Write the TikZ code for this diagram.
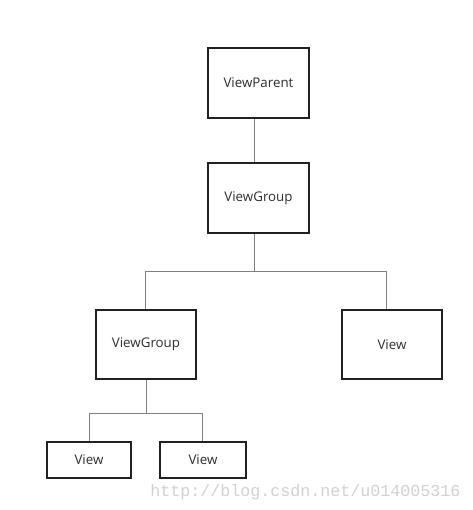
\documentclass[tikz,border=0pt]{standalone}
\usepackage{fontspec}
\setmainfont{Open Sans}
\newfontfamily\wmfont{Liberation Mono}
\begin{document}
\begin{tikzpicture}[x=0.75pt,y=-0.75pt,
  box/.style={draw=black!87,line width=1.5pt,fill=white,text=black!82,font=\fontsize{10}{12}\selectfont,inner sep=0pt},
  conn/.style={draw=black!50,line width=0.75pt}]
\useasboundingbox[fill=white] (0,0) rectangle (473,510);
\node[box,minimum width=101*0.75pt,minimum height=70*0.75pt] (vp) at (258.5,83) {ViewParent};
\node[box,minimum width=101*0.75pt,minimum height=70*0.75pt] (vg) at (258.5,198) {ViewGroup};
\node[box,minimum width=100*0.75pt,minimum height=69*0.75pt] (vg2) at (146,344.5) {ViewGroup};
\node[box,minimum width=100*0.75pt,minimum height=69*0.75pt] (v) at (392,344.5) {View};
\node[box,minimum width=84*0.75pt,minimum height=36*0.75pt] (va) at (89,460) {View};
\node[box,minimum width=86*0.75pt,minimum height=36*0.75pt] (vb) at (203,460) {View};
\coordinate (j0) at (254,140);
\coordinate (j1) at (254,271);
\coordinate (l1) at (145,271);
\coordinate (r1) at (386,271);
\coordinate (j2) at (146,413);
\coordinate (l2) at (89,413);
\coordinate (r2) at (202,413);
\draw[conn] (vp.south -| j0) -- (vg.north -| j0);
\draw[conn] (vg.south -| j1) -- (j1);
\draw[conn] (l1) -- (r1);
\draw[conn] (l1) -- (vg2.north -| l1);
\draw[conn] (r1) -- (v.north -| r1);
\draw[conn] (vg2.south -| j2) -- (j2);
\draw[conn] (l2) -- (r2);
\draw[conn] (l2) -- (va.north -| l2);
\draw[conn] (r2) -- (vb.north -| r2);
\node[anchor=base west,inner sep=0pt,text=black!18,font=\wmfont\fontsize{12.5}{14}\selectfont] (wm) at (150,496) {http://blog.csdn.net/u014005316};
\end{tikzpicture}
\end{document}
